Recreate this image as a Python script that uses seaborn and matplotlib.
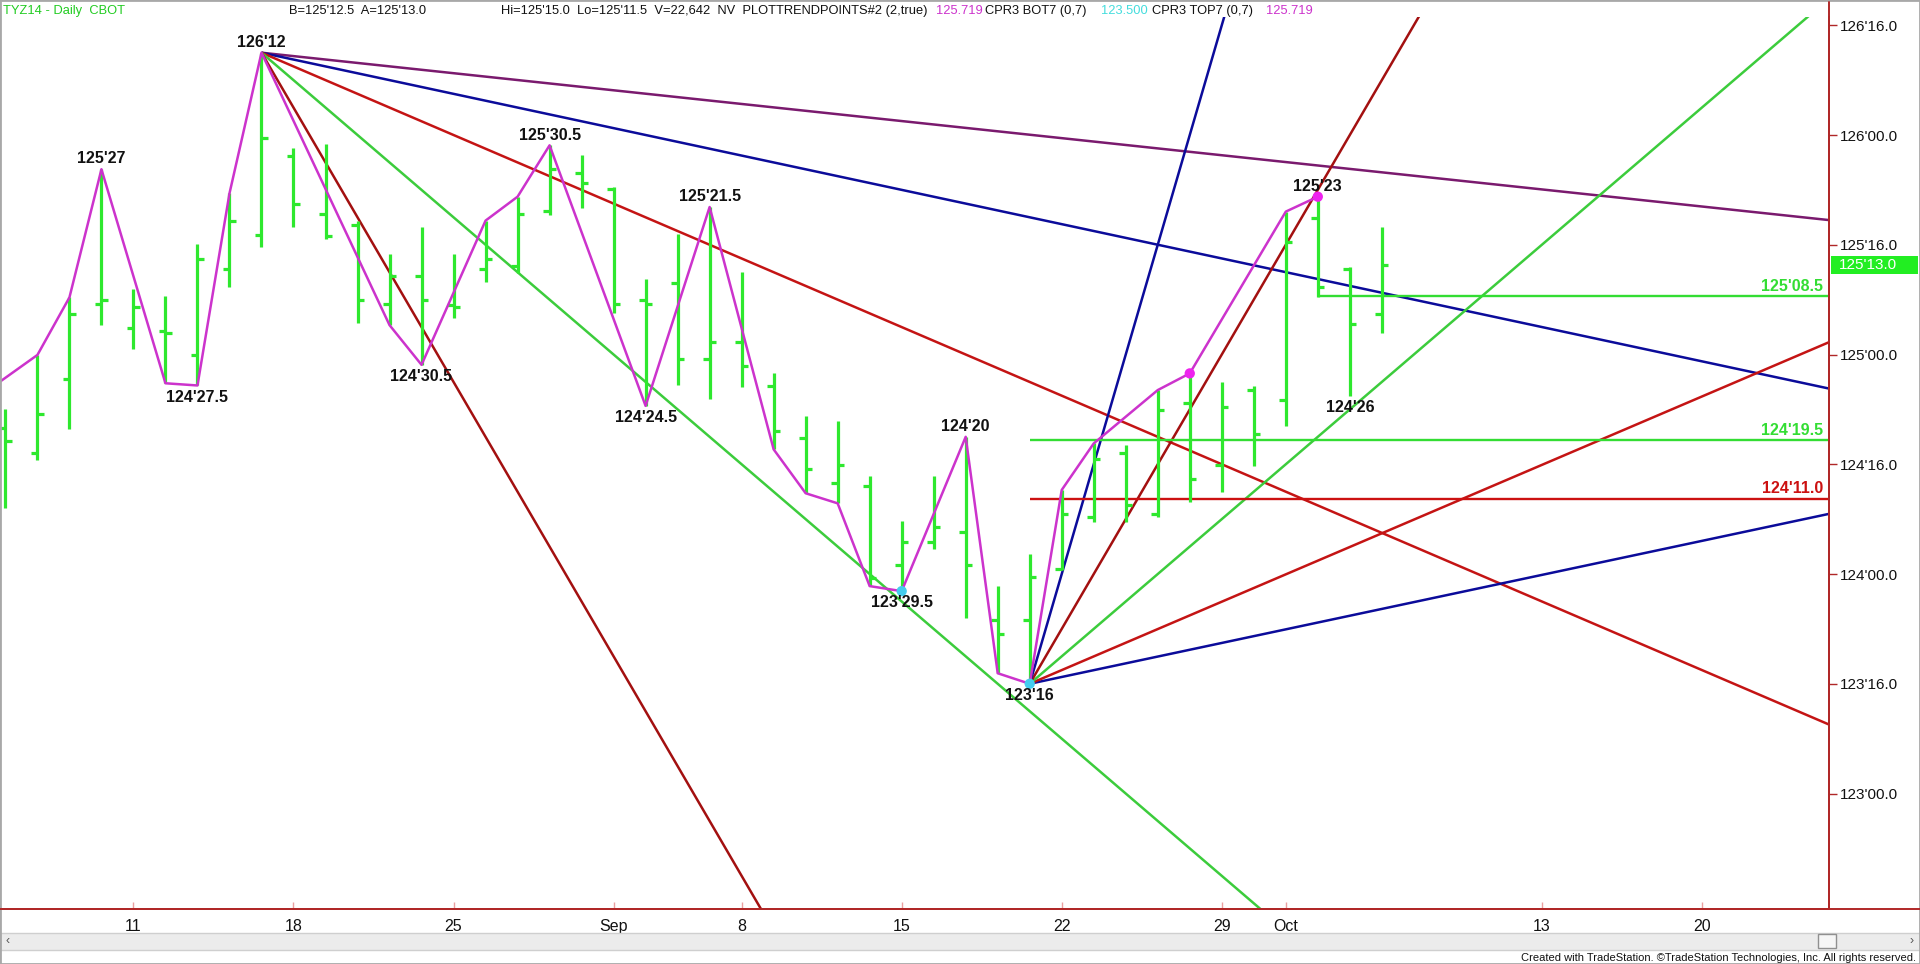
import matplotlib
matplotlib.use("Agg")
import matplotlib.pyplot as plt
import matplotlib.transforms as mtransforms
from matplotlib.lines import Line2D
from matplotlib.patches import Rectangle
from matplotlib.ticker import FuncFormatter, FixedLocator
import numpy as np
import seaborn as sns

# ---------------- data (prices in decimal points, bars indexed by trading day) ----------------
bar_idx = list(range(44))  # Aug 5 2014 ... Oct 6 2014
opens = [124.667, 124.553, 124.887, 125.229, 125.119, 125.106, 124.998, 125.390, 125.543, 125.904,
         125.639, 125.590, 125.230, 125.358, 125.226, 125.388, 125.403, 125.654, 125.828, 125.753,
         125.248, 125.324, 124.978, 125.056, 124.857, 124.618, 124.413, 124.401, 124.041, 124.147,
         124.193, 123.791, 123.791, 124.021, 124.258, 124.553, 124.273, 124.778, 124.497, 124.838,
         124.793, 125.621, 125.388, 125.185]
highs = [124.752, 124.998, 125.260, 125.844, 125.297, 125.267, 125.502, 125.734, 126.375, 125.939,
         125.958, 125.610, 125.458, 125.580, 125.458, 125.610, 125.719, 125.953, 125.909, 125.765,
         125.343, 125.549, 125.672, 125.375, 124.917, 124.720, 124.698, 124.448, 124.243, 124.448,
         124.625, 123.947, 124.091, 124.383, 124.595, 124.588, 124.838, 124.914, 124.873, 124.857,
         125.651, 125.719, 125.400, 125.580]
lows = [124.301, 124.519, 124.661, 125.134, 125.024, 124.869, 124.859, 125.306, 125.491, 125.582,
        125.525, 125.142, 125.134, 124.953, 125.165, 125.332, 125.370, 125.636, 125.666, 125.190,
        124.766, 124.861, 124.797, 124.851, 124.568, 124.368, 124.322, 123.945, 123.922, 124.113,
        123.798, 123.548, 123.500, 124.018, 124.238, 124.238, 124.261, 124.329, 124.375, 124.492,
        124.674, 125.261, 124.8125, 125.099]
closes = [124.605, 124.728, 125.183, 125.248, 125.215, 125.100, 125.434, 125.607, 125.986, 125.686,
          125.541, 125.248, 125.358, 125.248, 125.216, 125.434, 125.639, 125.844, 125.780, 125.230,
          125.230, 124.978, 125.056, 124.948, 124.652, 124.477, 124.497, 123.980, 124.147, 124.216,
          124.041, 123.725, 123.988, 124.272, 124.523, 124.314, 124.747, 124.431, 124.759, 124.636,
          125.511, 125.309, 125.138, 125.406]

# swing (PLOTTRENDPOINTS) line vertices
swing_bar = [-1, 1, 2, 3, 5, 6, 7, 8, 12, 13, 15, 16, 17, 20, 22, 24, 25, 26, 27, 28,
             30, 31, 32, 33, 34, 36, 37, 40, 41]
swing_px = [124.79, 124.998, 125.26, 125.844, 124.869, 124.859, 125.734, 126.375, 125.134, 124.953,
            125.610, 125.719, 125.953, 124.766, 125.672, 124.568, 124.368, 124.322, 123.945, 123.922,
            124.625, 123.548, 123.5, 124.383, 124.595, 124.838, 124.914, 125.651, 125.719]

# Gann fan lines from the 126'12 top and the 123'16 bottom
fan_bar0 = [8, 8, 8, 8, 8, 32, 32, 32, 32, 32]
fan_px0 = [126.375, 126.375, 126.375, 126.375, 126.375, 123.5, 123.5, 123.5, 123.5, 123.5]
fan_bar1 = [57, 57, 57, 41, 24, 57, 57, 57, 45, 39]
fan_px1 = [125.612, 124.844, 123.3125, 122.25, 122.375, 124.275, 125.058, 126.625, 126.75, 127.0]
fan_kind = ["purple", "navy", "red", "green", "darkred", "navy", "red", "green", "darkred", "navy"]

# horizontal levels
level_px = [125.265625, 124.609375, 124.34375]
level_start = [41, 32, 32]
level_text = ["125'08.5", "124'19.5", "124'11.0"]
level_kind = ["lime", "lime", "redlvl"]

# pivot labels
piv_text = ["125'27", "124'27.5", "126'12", "124'30.5", "125'30.5", "124'24.5", "125'21.5",
            "123'29.5", "124'20", "123'16", "125'23", "124'26"]
piv_bar = [3, 6, 8, 13, 17, 20, 22, 28, 30, 32, 41, 42]
piv_px = [125.844, 124.859, 126.375, 124.953, 125.953, 124.766, 125.672, 123.922, 124.625, 123.5,
          125.719, 124.8125]
piv_up = [True, False, True, False, True, False, True, False, True, False, True, False]

# marker dots
mag_bar, mag_px = [37, 41], [124.914, 125.719]
cyan_bar, cyan_px = [28, 32], [123.922, 123.5]

# date axis
xtick_pos = [4, 9, 14, 19, 23, 28, 33, 38, 40, 48, 53]
xtick_lab = ["11", "18", "25", "Sep", "8", "15", "22", "29", "Oct", "13", "20"]
ytick_vals = [123.0, 123.5, 124.0, 124.5, 125.0, 125.5, 126.0, 126.5]
last_price = 125.40625

# ---------------- style ----------------
sns.set_theme(style="white")
plt.rcParams["font.family"] = ["Liberation Sans", "DejaVu Sans"]

COL = {
    "bar": "#2ee82e", "swing": "#cc33cc", "purple": "#7a1a6e", "navy": "#0b0b9a",
    "red": "#c41414", "darkred": "#a31010", "green": "#3ccc3c", "lime": "#33dd33",
    "redlvl": "#cc1111", "axis": "#b02828",
}

W, H = 1920, 964
fig = plt.figure(figsize=(W / 100, H / 100), dpi=100)
fig.patch.set_facecolor("white")
ax = fig.add_axes([0, 1 - 909 / H, 1829 / W, (909 - 17) / H])
ax.set_facecolor("white")
ax.set_xlim(-0.169, 56.97)
ax.set_ylim(122.474, 126.5376)

# fan lines
for b0, p0, b1, p1, k in zip(fan_bar0, fan_px0, fan_bar1, fan_px1, fan_kind):
    ax.plot([b0, b1], [p0, p1], color=COL[k], lw=1.8, zorder=2, solid_capstyle="butt")

# horizontal levels
for lv, st, tx, k in zip(level_px, level_start, level_text, level_kind):
    ax.hlines(lv, st, 57.5, color=COL[k], lw=1.7, zorder=2)
    ax.annotate(tx, xy=(1.0, lv), xycoords=("axes fraction", "data"), xytext=(-4, 1.5),
                textcoords="offset points", ha="right", va="bottom", fontsize=11.5,
                fontweight="bold", color=COL[k], zorder=6)

# OHLC bars
bi = np.array(bar_idx, dtype=float)
ax.vlines(bi, lows, highs, color=COL["bar"], lw=2.3, zorder=3)
ax.hlines(opens, bi - 0.2, bi, color=COL["bar"], lw=2.3, zorder=3)
ax.hlines(closes, bi, bi + 0.2, color=COL["bar"], lw=2.3, zorder=3)

# swing line and dots
sns.lineplot(x=swing_bar, y=swing_px, ax=ax, color=COL["swing"], lw=1.8, sort=False,
             estimator=None, zorder=4)
sns.scatterplot(x=mag_bar, y=mag_px, ax=ax, color="#ee22ee", s=55, edgecolor="none", zorder=5)
sns.scatterplot(x=cyan_bar, y=cyan_px, ax=ax, color="#44ccee", s=55, edgecolor="none", zorder=5)

# pivot labels
for tx, b, p, up in zip(piv_text, piv_bar, piv_px, piv_up):
    ax.annotate(tx, xy=(b, p), xytext=(0, 2 if up else -3), textcoords="offset points",
                ha="center", va="bottom" if up else "top", fontsize=11.5,
                fontweight="bold", color="#111111", zorder=6)

# axes / ticks
def fmt32(v, pos=None):
    whole = int(np.floor(v + 1e-9))
    frac = (v - whole) * 32
    return f"{whole}'{frac:04.1f}"

ax.yaxis.tick_right()
ax.yaxis.set_major_locator(FixedLocator(ytick_vals))
ax.yaxis.set_major_formatter(FuncFormatter(fmt32))
ax.tick_params(axis="y", which="major", right=True, left=False, labelright=True,
               labelleft=False, length=6, width=1, color=COL["axis"], direction="out",
               pad=2, labelsize=11, labelcolor="#111111")
ax.set_xticks(xtick_pos)
ax.set_xticklabels(xtick_lab)
ax.tick_params(axis="x", which="major", bottom=True, length=5, width=1, color="#eaa0a0",
               direction="in", pad=7, labelsize=11.5, labelcolor="#111111")
for s in ["top", "left"]:
    ax.spines[s].set_visible(False)
ax.spines["right"].set_color(COL["axis"])
ax.spines["right"].set_linewidth(1.4)
ax.spines["bottom"].set_color(COL["axis"])
ax.spines["bottom"].set_linewidth(1.4)
ax.grid(False)

# extend axis lines to figure edges
fig.add_artist(Line2D([1829 / W, 1829 / W], [1 - 909 / H, 1 - 2 / H], transform=fig.transFigure,
                      color=COL["axis"], lw=1.4))
fig.add_artist(Line2D([0, 1], [1 - 909 / H, 1 - 909 / H], transform=fig.transFigure,
                      color=COL["axis"], lw=1.4))

# last price box
blend = mtransforms.blended_transform_factory(ax.transAxes, ax.transData)
ax.add_patch(Rectangle((1.0012, last_price - 0.041), (1918 - 1831) / 1829, 0.082,
                       transform=blend, clip_on=False, facecolor="#22ee22", edgecolor="none",
                       zorder=7))
ax.text((1839) / 1829, last_price, fmt32(last_price), transform=blend, va="center", ha="left",
        fontsize=11, color="white", zorder=8, clip_on=False)

# header
hdr_y = 1 - 11 / H
hdr = [
    (3, "TYZ14 - Daily  CBOT", "#22cc22"),
    (289, "B=125'12.5  A=125'13.0", "#111111"),
    (501, "Hi=125'15.0  Lo=125'11.5  V=22,642  NV  PLOTTRENDPOINTS#2 (2,true)", "#111111"),
    (936, "125.719", "#cc33cc"),
    (985, "CPR3 BOT7 (0,7)", "#111111"),
    (1101, "123.500", "#44dddd"),
    (1152, "CPR3 TOP7 (0,7)", "#111111"),
    (1266, "125.719", "#cc33cc"),
]
for xp, tx, c in hdr:
    fig.text(xp / W, hdr_y, tx, ha="left", va="center", fontsize=9.3, color=c)

# scrollbar and footer
fig.add_artist(Rectangle((0, 1 - 950 / H), 1, 17 / H, transform=fig.transFigure,
                         facecolor="#ececec", edgecolor="#cfcfcf", lw=1))
fig.add_artist(Rectangle((1818 / W, 1 - 948 / H), 18 / W, 14 / H, transform=fig.transFigure,
                         facecolor="#f6f6f6", edgecolor="#909090", lw=1))
fig.text(8 / W, 1 - 941 / H, "‹", ha="center", va="center", fontsize=9, color="#555555")
fig.text(1912 / W, 1 - 941 / H, "›", ha="center", va="center", fontsize=9, color="#555555")
fig.text(1916 / W, 1 - 958 / H,
         "Created with TradeStation. ©TradeStation Technologies, Inc. All rights reserved.",
         ha="right", va="center", fontsize=8, color="#111111")

# outer frame
fig.add_artist(Rectangle((0, 0), 1, 1, transform=fig.transFigure, fill=False,
                         edgecolor="#a8a8a8", lw=2))

fig.savefig("out.png", dpi=100, facecolor="white")
